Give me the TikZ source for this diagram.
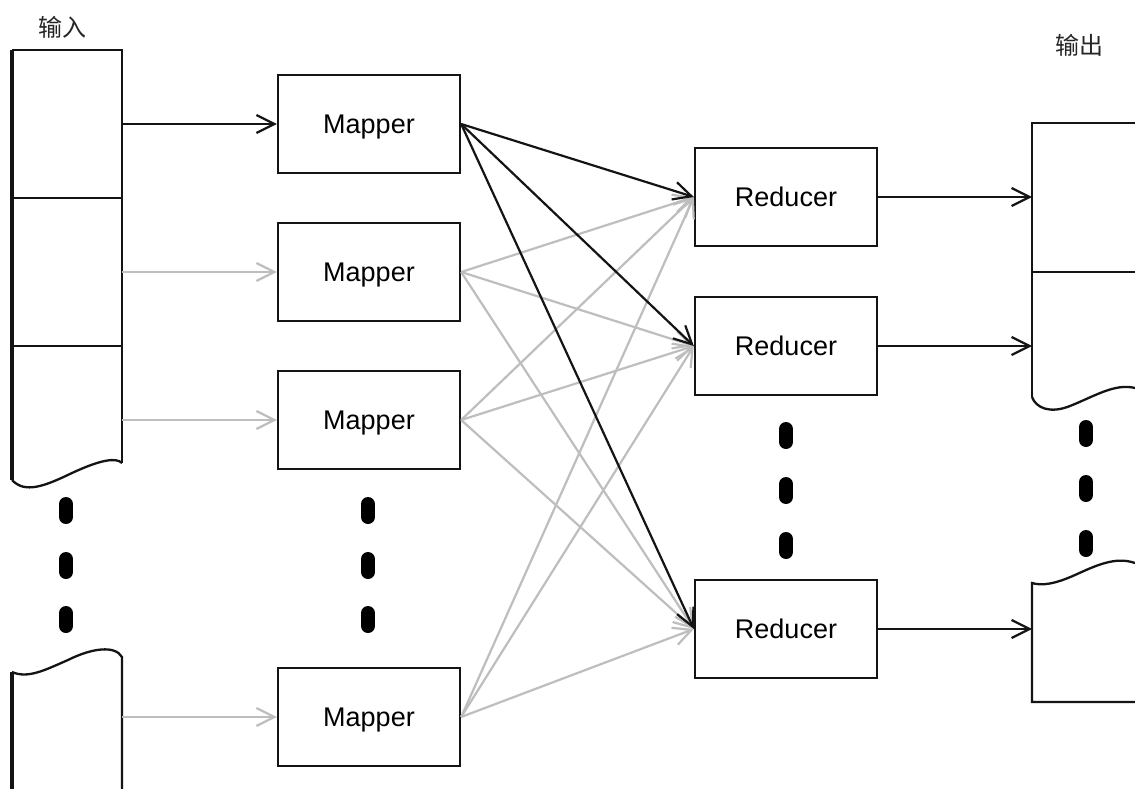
\documentclass[tikz,border=0pt]{standalone}
\usepackage{fontspec}
\setsansfont{Liberation Sans}
\newfontfamily\cjk{Noto Sans CJK SC}
\usetikzlibrary{arrows.meta}
\definecolor{lgray}{RGB}{190,190,190}
\definecolor{ink}{RGB}{20,20,20}
\tikzset{
  box/.style={draw=ink, line width=2.3pt, minimum width=182pt, minimum height=98pt, inner sep=0pt, text height=19pt, text depth=0pt, font=\sffamily\fontsize{27}{30}\selectfont},
  blk/.style={draw=ink, line width=2.2pt, -{Straight Barb[length=18pt,width=18pt,line width=2.2pt]}},
  gry/.style={draw=lgray, line width=2.2pt, -{Straight Barb[length=18pt,width=18pt,line width=2.2pt]}},
  col/.style={draw=ink, line width=2.3pt},
  dotmark/.style={draw=black, line width=14pt, line cap=round},
  lbl/.style={font=\cjk\fontsize{24}{26}\selectfont, text=black!85}
}
\begin{document}
\begin{tikzpicture}[x=1pt,y=-1pt]
\useasboundingbox (0,0) rectangle (1135,789);
\fill[white] (0,0) rectangle (1135,789);

% labels
\node[lbl] (inlbl) at (62,27) {输入};
\node[lbl] (outlbl) at (1079,45) {输出};

% input column, top piece
\draw[col] (122,463) -- (122,50) -- (12,50);
\draw[col, line width=3.2pt] (12,50) -- (12,480);
\draw[col] (122,463) .. controls (116,457) and (100,460) .. (72,473)
  .. controls (45,486) and (25,494) .. (12,480);
\draw[col] (12,198) -- (122,198);
\draw[col] (12,346) -- (122,346);
% input column, bottom piece
\draw[col, line width=3.2pt] (12,789) -- (12,672);
\draw[col] (12,672) .. controls (28,679) and (45,670) .. (68,660)
  .. controls (92,648) and (115,645) .. (122,657) -- (122,789);

% input dots
\draw[dotmark] (66,504) -- (66,517);
\draw[dotmark] (66,559) -- (66,572);
\draw[dotmark] (66,613) -- (66,626);

% output column, top piece
\draw[col] (1135,123) -- (1032,123) -- (1032,397);
\draw[col] (1032,397) .. controls (1036,408) and (1050,414) .. (1070,406)
  .. controls (1095,396) and (1115,383) .. (1135,388);
\draw[col] (1032,272) -- (1135,272);
% output column, bottom piece
\draw[col] (1135,563) .. controls (1115,556) and (1095,566) .. (1075,575)
  .. controls (1055,584) and (1042,586) .. (1032,583) -- (1032,702) -- (1135,702);

% output dots
\draw[dotmark] (1086,427) -- (1086,440);
\draw[dotmark] (1086,482) -- (1086,495);
\draw[dotmark] (1086,537) -- (1086,550);

% mappers
\node[box] (m1) at (369,124) {Mapper};
\node[box] (m2) at (369,272) {Mapper};
\node[box] (m3) at (369,420) {Mapper};
\node[box] (m4) at (369,717) {Mapper};
\draw[dotmark] (368,504) -- (368,517);
\draw[dotmark] (368,559) -- (368,572);
\draw[dotmark] (368,613) -- (368,626);

% reducers
\node[box] (r1) at (786,197) {Reducer};
\node[box] (r2) at (786,346) {Reducer};
\node[box] (r3) at (786,629) {Reducer};
\draw[dotmark] (786,429) -- (786,442);
\draw[dotmark] (786,484) -- (786,497);
\draw[dotmark] (786,539) -- (786,552);

% connector anchor coordinates
\coordinate (i1) at (122,124);
\coordinate (i2) at (122,272);
\coordinate (i3) at (122,420);
\coordinate (i4) at (122,717);
\coordinate (o1) at (1032,197);
\coordinate (o2) at (1032,346);
\coordinate (o3) at (1032,629);

% gray mapper -> reducer
\foreach \m in {m2,m3,m4}{
  \foreach \r in {r1,r2,r3}{
    \draw[gry] (\m.east) -- (\r.west);
  }
}
% input -> mapper
\draw[gry] (i2) -- (m2.west);
\draw[gry] (i3) -- (m3.west);
\draw[gry] (i4) -- (m4.west);
\draw[blk] (i1) -- (m1.west);
% black mapper1 -> reducers
\draw[blk] (m1.east) -- (r1.west);
\draw[blk] (m1.east) -- (r2.west);
\draw[blk] (m1.east) -- (r3.west);
% reducer -> output
\draw[blk] (r1.east) -- (o1);
\draw[blk] (r2.east) -- (o2);
\draw[blk] (r3.east) -- (o3);
\end{tikzpicture}
\end{document}
